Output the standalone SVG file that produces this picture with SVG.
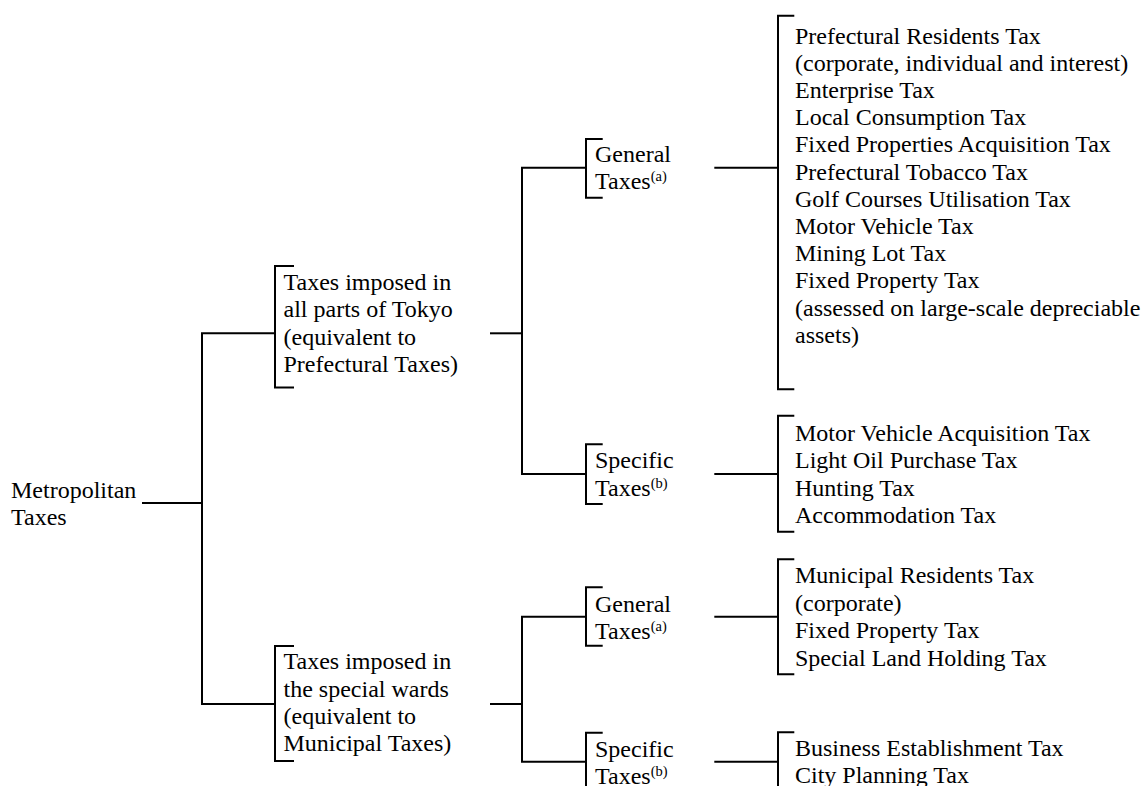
<svg xmlns="http://www.w3.org/2000/svg" width="1143" height="786" viewBox="0 0 1143 786">
<style>
.ln{fill:none;stroke:#000;stroke-width:2;stroke-linejoin:miter;stroke-linecap:butt}
.t{font-family:"Liberation Serif","Times New Roman",serif;font-size:24px;fill:#000}
.sup{font-size:14.5px}
</style>
<rect width="1143" height="786" fill="#fff"/>
<g id="connectors">
<path class="ln" d="M142 503H202"/>
<path class="ln" d="M275 333.3H202V704H275"/>
<path class="ln" d="M490 333.3H522"/>
<path class="ln" d="M586 167.7H522V474H586"/>
<path class="ln" d="M490 704H522"/>
<path class="ln" d="M586 616.7H522V761.7H586"/>
<path class="ln" d="M714.3 167.7H778"/>
<path class="ln" d="M714.3 474H778"/>
<path class="ln" d="M714.3 616.7H778"/>
<path class="ln" d="M714.3 761.7H778"/>
</g>
<g id="n-root">
<text class="t"><tspan x="11" y="498">Metropolitan</tspan><tspan x="11" y="525.3">Taxes</tspan></text>
</g>
<g id="n-all-parts">
<path class="ln" d="M294 266H275V387.5H294"/>
<text class="t"><tspan x="283.5" y="290">Taxes imposed in</tspan><tspan x="283.5" y="317.3">all parts of Tokyo</tspan><tspan x="283.5" y="344.6">(equivalent to</tspan><tspan x="283.5" y="371.9">Prefectural Taxes)</tspan></text>
</g>
<g id="n-special-wards">
<path class="ln" d="M294 646H275V761H294"/>
<text class="t"><tspan x="283.5" y="669.3">Taxes imposed in</tspan><tspan x="283.5" y="696.6">the special wards</tspan><tspan x="283.5" y="723.9">(equivalent to</tspan><tspan x="283.5" y="751.2">Municipal Taxes)</tspan></text>
</g>
<g id="n-general-1">
<path class="ln" d="M602.7 139H586V197.7H602.7"/>
<text class="t"><tspan x="595" y="161.7">General</tspan><tspan x="595" y="189">Taxes</tspan><tspan class="sup" dy="-8">(a)</tspan></text>
</g>
<g id="n-specific-1">
<path class="ln" d="M602.7 444.3H586V504H602.7"/>
<text class="t"><tspan x="595" y="468.3">Specific</tspan><tspan x="595" y="495.6">Taxes</tspan><tspan class="sup" dy="-8">(b)</tspan></text>
</g>
<g id="n-general-2">
<path class="ln" d="M602.7 587.3H586V645.7H602.7"/>
<text class="t"><tspan x="595" y="611.7">General</tspan><tspan x="595" y="639">Taxes</tspan><tspan class="sup" dy="-8">(a)</tspan></text>
</g>
<g id="n-specific-2">
<path class="ln" d="M602.7 732.7H586V795"/>
<text class="t"><tspan x="595" y="756.7">Specific</tspan><tspan x="595" y="784">Taxes</tspan><tspan class="sup" dy="-8">(b)</tspan></text>
</g>
<g id="n-items-general-1">
<path class="ln" d="M794.3 15.7H778V389.3H794.3"/>
<text class="t"><tspan x="795" y="43.6">Prefectural Residents Tax</tspan><tspan x="795" y="70.8">(corporate, individual and interest)</tspan><tspan x="795" y="98">Enterprise Tax</tspan><tspan x="795" y="125.2">Local Consumption Tax</tspan><tspan x="795" y="152.4">Fixed Properties Acquisition Tax</tspan><tspan x="795" y="179.6">Prefectural Tobacco Tax</tspan><tspan x="795" y="206.8">Golf Courses Utilisation Tax</tspan><tspan x="795" y="234">Motor Vehicle Tax</tspan><tspan x="795" y="261.2">Mining Lot Tax</tspan><tspan x="795" y="288.4">Fixed Property Tax</tspan><tspan x="795" y="315.6">(assessed on large-scale depreciable</tspan><tspan x="795" y="342.8">assets)</tspan></text>
</g>
<g id="n-items-specific-1">
<path class="ln" d="M794.3 415.7H778V531.7H794.3"/>
<text class="t"><tspan x="795" y="440.7">Motor Vehicle Acquisition Tax</tspan><tspan x="795" y="468.1">Light Oil Purchase Tax</tspan><tspan x="795" y="495.5">Hunting Tax</tspan><tspan x="795" y="522.9">Accommodation Tax</tspan></text>
</g>
<g id="n-items-general-2">
<path class="ln" d="M794.3 559.3H778V674.3H794.3"/>
<text class="t"><tspan x="795" y="583.3">Municipal Residents Tax</tspan><tspan x="795" y="610.7">(corporate)</tspan><tspan x="795" y="638.1">Fixed Property Tax</tspan><tspan x="795" y="665.5">Special Land Holding Tax</tspan></text>
</g>
<g id="n-items-specific-2">
<path class="ln" d="M794.3 732.3H778V795"/>
<text class="t"><tspan x="795" y="755.5">Business Establishment Tax</tspan><tspan x="795" y="782.8">City Planning Tax</tspan></text>
</g>
</svg>
